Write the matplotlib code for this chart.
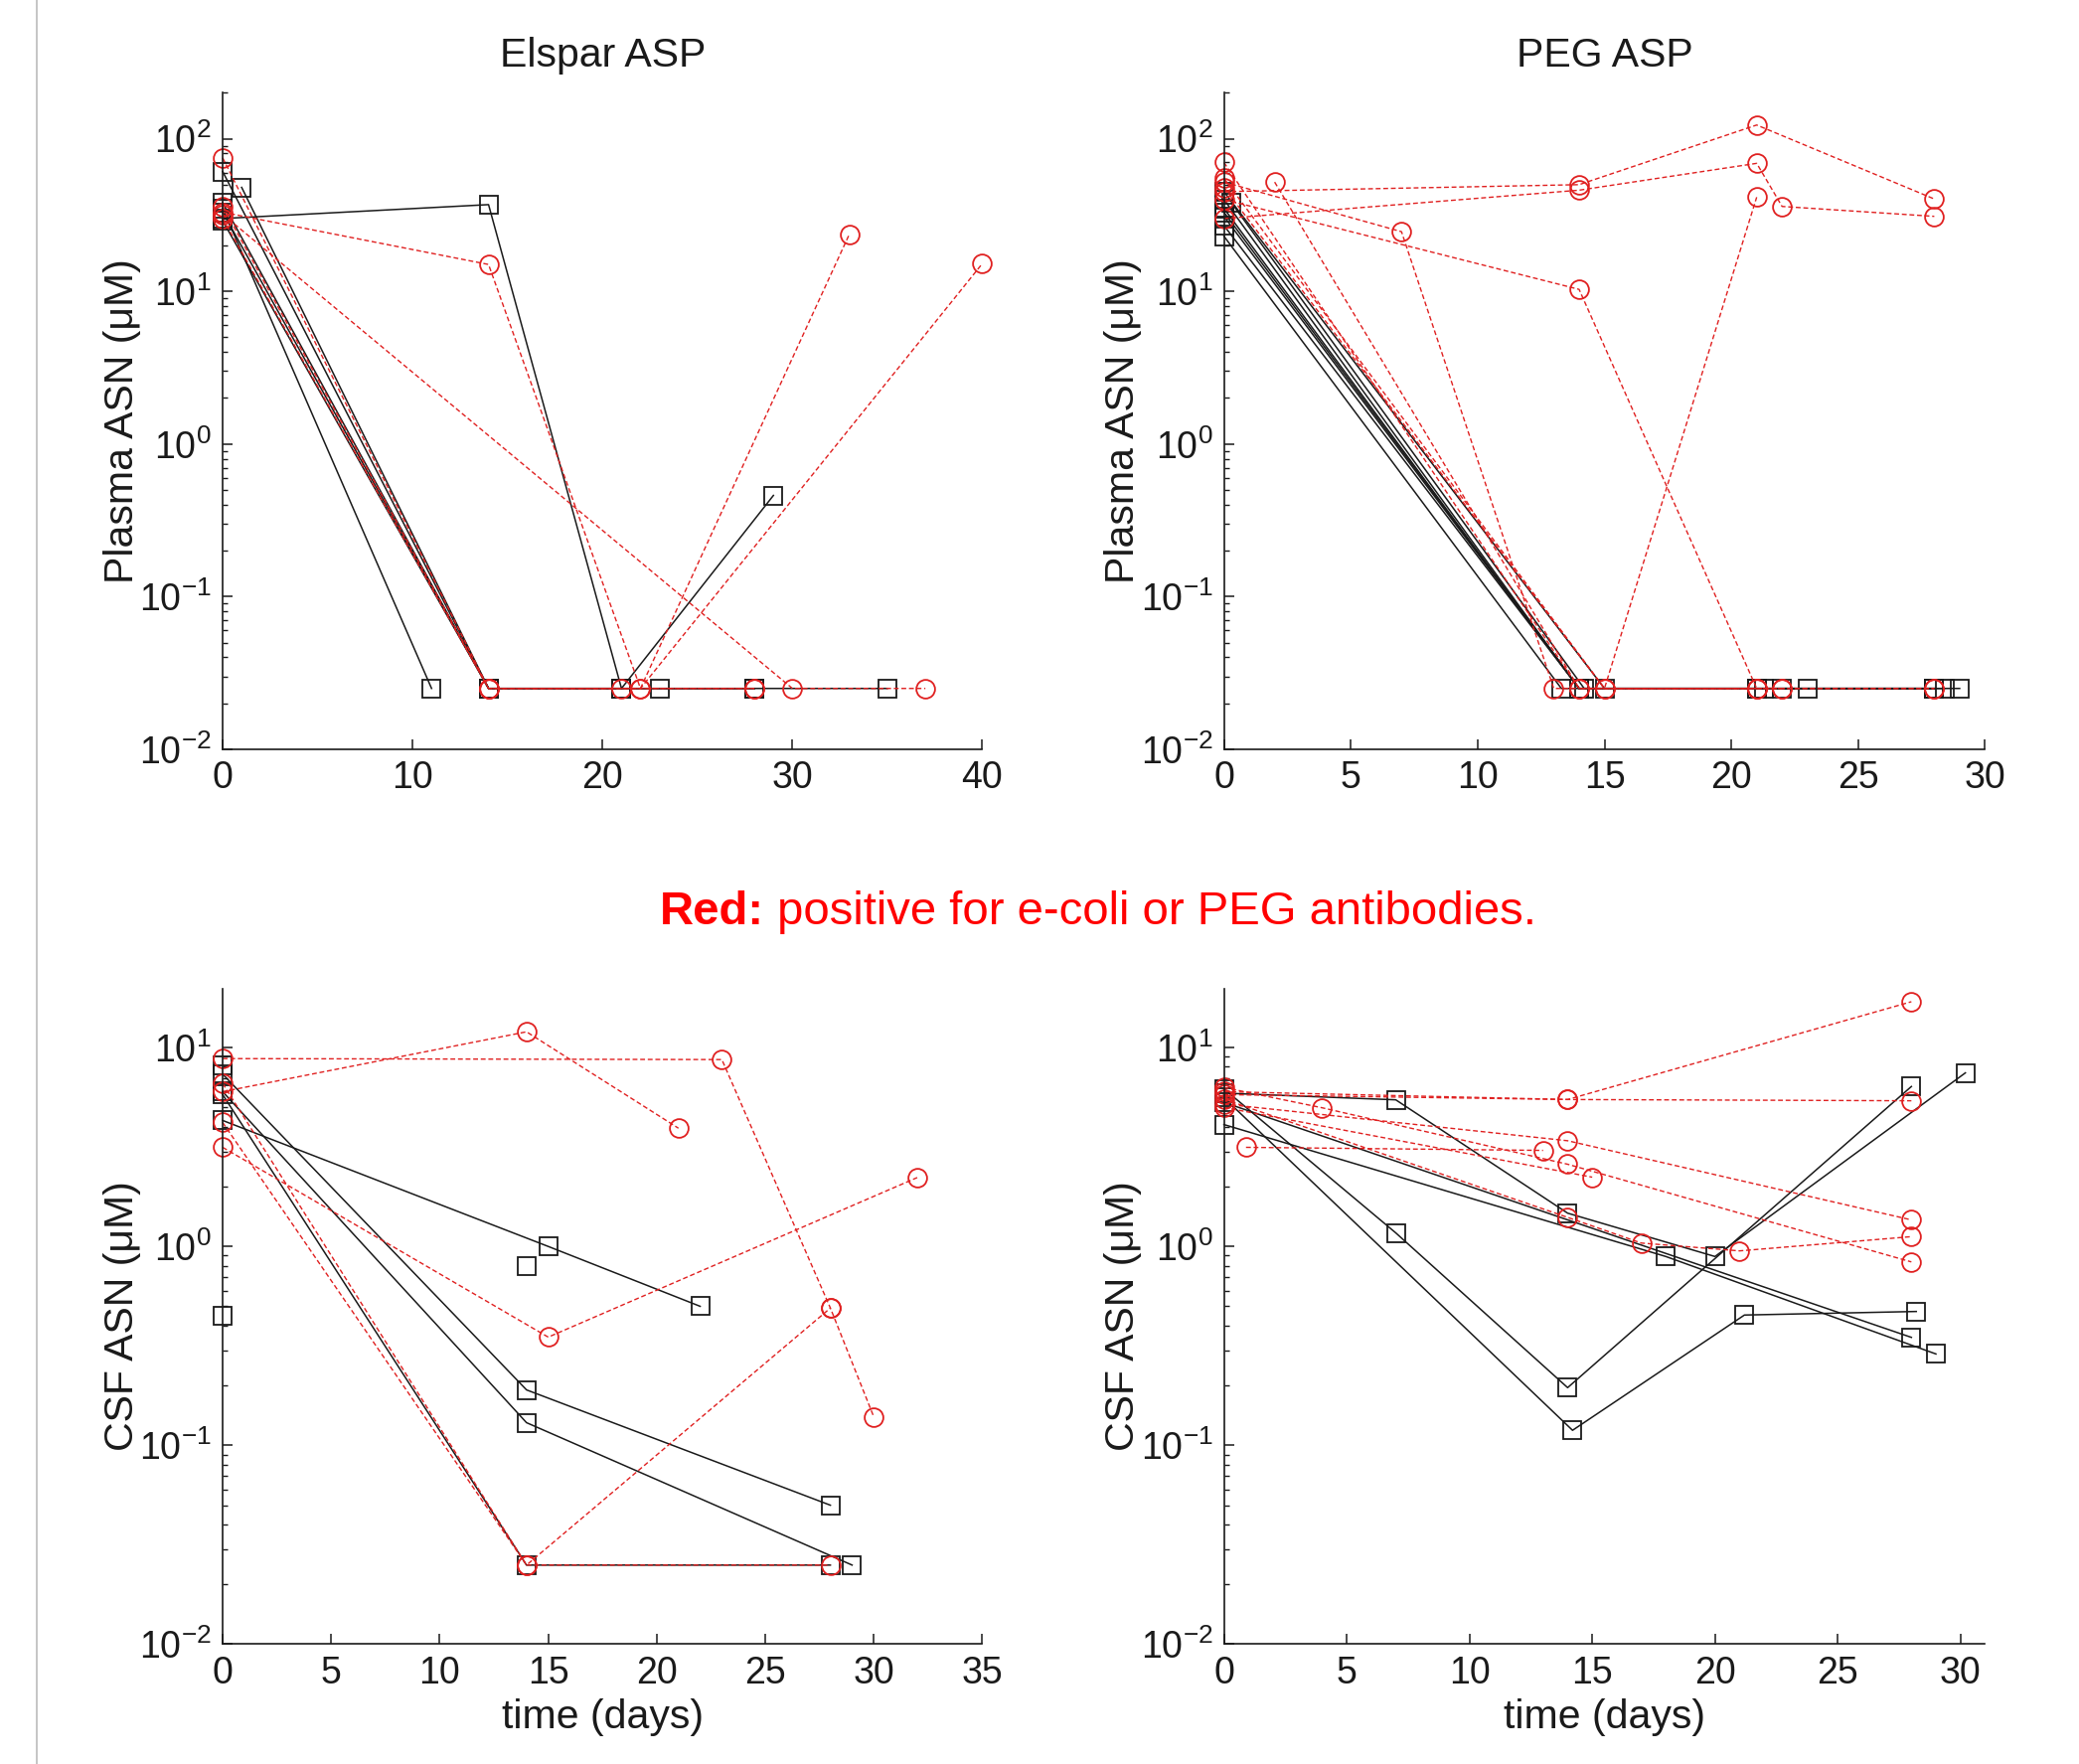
import matplotlib
matplotlib.use("Agg")
import matplotlib.pyplot as plt
from matplotlib.lines import Line2D
from matplotlib.ticker import LogLocator, FixedLocator

plt.rcParams['font.family'] = ['Liberation Sans', 'DejaVu Sans']
plt.rcParams['mathtext.fontset'] = 'custom'
plt.rcParams['mathtext.rm'] = 'Liberation Sans'
plt.rcParams['axes.unicode_minus'] = False

# ---------------- data (time in days, concentration in uM) ----------------
LLOQ = 0.025

# Elspar ASP - plasma ASN
elspar_plasma_black_t = [[0, 14, 21, 29], [0, 14, 28], [1, 14, 21], [0, 11],
                         [0, 14, 23, 35], [0, 14, 28], [0, 14, 21]]
elspar_plasma_black_y = [[30, 37, LLOQ, 0.46], [61, LLOQ, LLOQ], [48, LLOQ, LLOQ], [35, LLOQ],
                         [38, LLOQ, LLOQ, LLOQ], [33, LLOQ, LLOQ], [29, LLOQ, LLOQ]]
elspar_plasma_red_t = [[0, 14, 28], [0, 14, 22, 33], [0, 30, 37], [0, 14, 22, 40], [0, 14, 21, 28]]
elspar_plasma_red_y = [[75, LLOQ, LLOQ], [33, 15, LLOQ, 23.7], [32, LLOQ, LLOQ],
                       [30, LLOQ, LLOQ, 15.2], [36, LLOQ, LLOQ, LLOQ]]

# PEG ASP - plasma ASN
peg_plasma_black_t = [[0, 14, 21, 28], [0, 14, 21, 28], [0, 13.3, 23, 29], [0, 14, 21, 28],
                      [0.3, 14.2, 21.3, 28.4], [0, 14, 22, 28], [0, 15, 21, 28], [0, 14, 28]]
peg_plasma_black_y = [[40, LLOQ, LLOQ, LLOQ], [35, LLOQ, LLOQ, LLOQ], [23, LLOQ, LLOQ, LLOQ],
                      [31, LLOQ, LLOQ, LLOQ], [38, LLOQ, LLOQ, LLOQ], [27, LLOQ, LLOQ, LLOQ],
                      [45, LLOQ, LLOQ, LLOQ], [33, LLOQ, LLOQ]]
peg_plasma_red_t = [[0, 14, 21, 28], [0, 14, 21, 22, 28], [0, 7, 13, 21], [0, 14, 21],
                    [0, 15, 21], [2, 14, 22], [0, 14, 21, 28], [0, 15, 22, 28]]
peg_plasma_red_y = [[45, 50, 123, 40.3], [30, 46, 69, 36, 31], [52, 24.6, LLOQ, LLOQ],
                    [40, 10.3, LLOQ], [55, LLOQ, 41.4], [52, LLOQ, LLOQ],
                    [70, LLOQ, LLOQ, LLOQ], [48, LLOQ, LLOQ, LLOQ]]

# Elspar ASP - CSF ASN
elspar_csf_black_t = [[0, 15, 22], [0, 14, 28], [0, 14, 29], [0, 14, 28], [0], [14], [0]]
elspar_csf_black_y = [[4.3, 1.0, 0.5], [7.35, 0.19, 0.05], [6.0, 0.13, LLOQ],
                      [5.8, LLOQ, LLOQ], [0.45], [0.8], [8.1]]
elspar_csf_red_t = [[0, 23, 28, 30], [0, 14, 21], [0, 15, 32], [0, 14, 28], [0, 14, 28]]
elspar_csf_red_y = [[8.8, 8.7, 0.49, 0.139], [6.0, 12, 3.93], [3.15, 0.35, 2.22],
                    [4.2, LLOQ, 0.49], [6.6, LLOQ, LLOQ]]

# PEG ASP - CSF ASN
peg_csf_black_t = [[0, 7, 14, 20, 30.2], [0, 7, 14, 28], [0, 14.2, 21.2, 28.2], [0, 28], [0, 18, 29]]
peg_csf_black_y = [[5.9, 5.46, 1.47, 0.89, 7.46], [6.2, 1.17, 0.195, 6.37],
                   [5.6, 0.119, 0.452, 0.471], [5.3, 0.349], [4.1, 0.89, 0.288]]
peg_csf_red_t = [[0, 14, 28], [0, 14, 28], [0, 14, 28], [0.9, 13], [0, 4, 14, 28],
                 [0, 15], [0, 14, 17, 21, 28]]
peg_csf_red_y = [[6.0, 5.48, 17], [5.8, 5.48, 5.4], [5.2, 3.4, 1.36], [3.15, 3.04],
                 [6.3, 4.98, 2.59, 0.836], [5.0, 2.23], [5.5, 1.40, 1.04, 0.95, 1.12]]

titles = ["Elspar ASP", "PEG ASP"]
ylabels = ["Plasma ASN (\u03bcM)", "CSF ASN (\u03bcM)"]
xlabel = "time (days)"
note_bold = "Red:"
note_rest = " positive for e-coli or PEG antibodies."

# ---------------- figure ----------------
W, H = 2092, 1775
fig = plt.figure(figsize=(W / 100, H / 100), dpi=100)

pos = {
    'tl': [0.1071, 0.5753, 0.3654, 0.3721],
    'tr': [0.5887, 0.5753, 0.3661, 0.3721],
    'bl': [0.1071, 0.0679, 0.3654, 0.3717],
    'br': [0.5887, 0.0679, 0.3661, 0.3717],
}

BLACK = '#1a1a1a'
RED = '#e02020'


def draw(ax, bt, by, rt, ry, xlim, xticks, ylim):
    for t, y in zip(bt, by):
        ax.plot(t, y, '-', color=BLACK, lw=1.1, marker='s', ms=12.5,
                mfc='none', mec=BLACK, mew=1.3, clip_on=False)
    for t, y in zip(rt, ry):
        ax.plot(t, y, '--', color=RED, lw=1.0, dashes=(3.5, 2), marker='o', ms=13.5,
                mfc='none', mec=RED, mew=1.3, clip_on=False)
    ax.set_yscale('log')
    ax.set_xlim(*xlim)
    ax.set_ylim(*ylim)
    ax.xaxis.set_major_locator(FixedLocator(xticks))
    ax.yaxis.set_major_locator(LogLocator(base=10, numticks=10))
    ax.yaxis.set_minor_locator(LogLocator(base=10, subs=range(2, 10), numticks=20))
    for s in ['top', 'right']:
        ax.spines[s].set_visible(False)
    for s in ['left', 'bottom']:
        ax.spines[s].set_linewidth(1.2)
        ax.spines[s].set_color(BLACK)
    ax.tick_params(which='both', direction='in', top=False, right=False, colors=BLACK)
    ax.tick_params(which='major', length=7, width=1.1, labelsize=27, pad=8)
    ax.tick_params(which='minor', length=3.5, width=1.0)
    ax.set_facecolor('white')


ax_tl = fig.add_axes(pos['tl'])
draw(ax_tl, elspar_plasma_black_t, elspar_plasma_black_y, elspar_plasma_red_t, elspar_plasma_red_y,
     (0, 40), [0, 10, 20, 30, 40], (0.01, 200))
ax_tr = fig.add_axes(pos['tr'])
draw(ax_tr, peg_plasma_black_t, peg_plasma_black_y, peg_plasma_red_t, peg_plasma_red_y,
     (0, 30), [0, 5, 10, 15, 20, 25, 30], (0.01, 200))
ax_bl = fig.add_axes(pos['bl'])
draw(ax_bl, elspar_csf_black_t, elspar_csf_black_y, elspar_csf_red_t, elspar_csf_red_y,
     (0, 35), [0, 5, 10, 15, 20, 25, 30, 35], (0.01, 19.8))
ax_br = fig.add_axes(pos['br'])
draw(ax_br, peg_csf_black_t, peg_csf_black_y, peg_csf_red_t, peg_csf_red_y,
     (0, 31), [0, 5, 10, 15, 20, 25, 30], (0.01, 19.8))

for ax, ttl in zip([ax_tl, ax_tr], titles):
    ax.set_title(ttl, fontsize=29.5, pad=19, color=BLACK)

for ax in [ax_tl, ax_tr]:
    ax.set_ylabel(ylabels[0], fontsize=29.5, va='center', color=BLACK)
    ax.yaxis.set_label_coords(-0.1325, 0.5)
for ax in [ax_bl, ax_br]:
    ax.set_ylabel(ylabels[1], fontsize=29.5, va='center', color=BLACK)
    ax.yaxis.set_label_coords(-0.1325, 0.5)
    ax.set_xlabel(xlabel, fontsize=29.5, va='center', color=BLACK)
    ax.xaxis.set_label_coords(0.5, -0.111)

# annotation line in red, bold first word
ybase = 1 - 930 / H
t1 = fig.text(0.3, ybase, note_bold, fontsize=34, fontweight='bold', color='red',
              ha='left', va='baseline')
fig.canvas.draw()
r = fig.canvas.get_renderer()
bb1 = t1.get_window_extent(r)
t2 = fig.text(bb1.x1 / W, ybase, note_rest, fontsize=34, color='red', ha='left', va='baseline')
fig.canvas.draw()
bb2 = t2.get_window_extent(r)
total_center = (bb1.x0 + bb2.x1) / 2
shift = (1104.7 - total_center) / W
t1.set_x(t1.get_position()[0] + shift)
t2.set_x(t2.get_position()[0] + shift)

# thin gray rule at the left edge
fig.add_artist(Line2D([37.4 / W, 37.4 / W], [0, 1], transform=fig.transFigure,
                      color='#c0c0c0', lw=1.3))

fig.savefig("out.png", dpi=100, facecolor='white')
